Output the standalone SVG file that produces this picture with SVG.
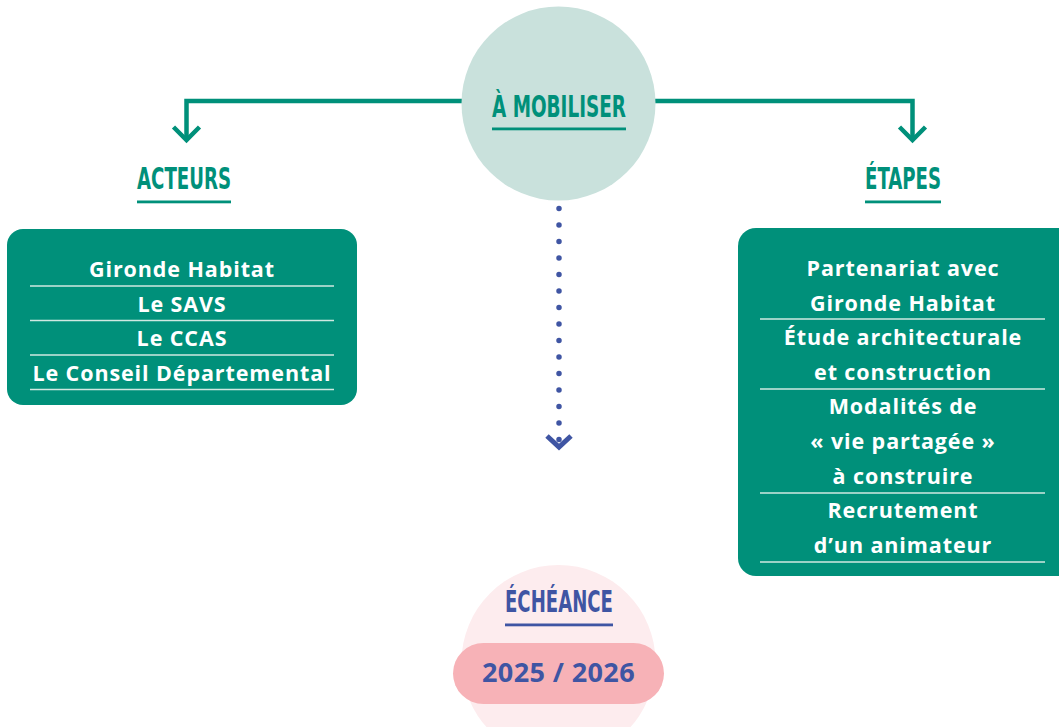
<svg xmlns="http://www.w3.org/2000/svg" width="1059" height="727" viewBox="0 0 1059 727">
<defs>
<style>
.title{font-family:"DejaVu Sans Condensed","DejaVu Sans",sans-serif;font-weight:bold;font-size:30px;text-anchor:middle}
.g{fill:#00907a}
.b{fill:#3f55a3}
.body{font-family:"Open Sans","Noto Sans",sans-serif;font-weight:700;font-size:21.5px;letter-spacing:0.9px;fill:#ffffff;text-anchor:middle}
.sep{stroke:#cfe9e2;stroke-width:1.5}
.conn{fill:none;stroke:#00907a;stroke-width:4.5}
</style>
</defs>
<rect width="1059" height="727" fill="#ffffff"/>
<g id="connectors">
<path class="conn" d="M462 101 H186.5 V140"/>
<path class="conn" d="M173.5 127 L186.5 140 L199.5 127"/>
<path class="conn" d="M655 101 H912.5 V140"/>
<path class="conn" d="M899.5 127 L912.5 140 L925.5 127"/>
<line x1="559" y1="208.5" x2="559" y2="440" stroke="#3f55a3" stroke-width="5.5" stroke-linecap="round" stroke-dasharray="0 16.5"/>
<path d="M547 436 L559 447 L571 436" fill="none" stroke="#3f55a3" stroke-width="5"/>
</g>
<g id="mobiliser">
<circle cx="558.5" cy="103.5" r="97" fill="#c9e1dc"/>
<text class="title g" x="559" y="117" textLength="134" lengthAdjust="spacingAndGlyphs">À MOBILISER</text>
<rect x="492" y="127.5" width="134" height="2.8" fill="#00907a"/>
</g>
<g id="acteurs-title">
<text class="title g" x="184" y="189" textLength="94" lengthAdjust="spacingAndGlyphs">ACTEURS</text>
<rect x="137" y="200.5" width="94" height="2.8" fill="#00907a"/>
</g>
<g id="etapes-title">
<text class="title g" x="903" y="189" textLength="76" lengthAdjust="spacingAndGlyphs">ÉTAPES</text>
<rect x="865" y="200.5" width="76" height="2.8" fill="#00907a"/>
</g>
<g id="acteurs">
<rect x="7" y="229" width="350" height="176" rx="16" fill="#00907a"/>
<text class="body" x="182" y="277">Gironde Habitat</text>
<line class="sep" x1="30" y1="286" x2="334" y2="286"/>
<text class="body" x="182" y="312">Le SAVS</text>
<line class="sep" x1="30" y1="320.5" x2="334" y2="320.5"/>
<text class="body" x="182" y="346">Le CCAS</text>
<line class="sep" x1="30" y1="355" x2="334" y2="355"/>
<text class="body" x="182" y="381">Le Conseil Départemental</text>
<line class="sep" x1="30" y1="389.5" x2="334" y2="389.5"/>
</g>
<g id="etapes">
<rect x="738" y="228" width="340" height="348" rx="18" fill="#00907a"/>
<text class="body" x="903" y="276">Partenariat avec</text>
<text class="body" x="903" y="310.5">Gironde Habitat</text>
<line class="sep" x1="760" y1="319" x2="1045" y2="319"/>
<text class="body" x="903" y="345">Étude architecturale</text>
<text class="body" x="903" y="380">et construction</text>
<line class="sep" x1="760" y1="389" x2="1045" y2="389"/>
<text class="body" x="903" y="414">Modalités de</text>
<text class="body" x="903" y="449">« vie partagée »</text>
<text class="body" x="903" y="483.5">à construire</text>
<line class="sep" x1="760" y1="493" x2="1045" y2="493"/>
<text class="body" x="903" y="518">Recrutement</text>
<text class="body" x="903" y="552.5">d’un animateur</text>
<line class="sep" x1="760" y1="562" x2="1045" y2="562"/>
</g>
<g id="echeance">
<circle cx="558.5" cy="662" r="97" fill="#fdecee"/>
<text class="title b" x="559" y="612" textLength="108" lengthAdjust="spacingAndGlyphs">ÉCHÉANCE</text>
<rect x="505" y="623.5" width="108" height="2.8" fill="#3f55a3"/>
<rect x="453" y="643" width="211" height="61" rx="30.5" fill="#f7b2b7"/>
<text x="558.5" y="682" font-family="Open Sans, Noto Sans, sans-serif" font-weight="700" font-size="27" letter-spacing="0.4" fill="#3f55a3" text-anchor="middle">2025 / 2026</text>
</g>
</svg>
